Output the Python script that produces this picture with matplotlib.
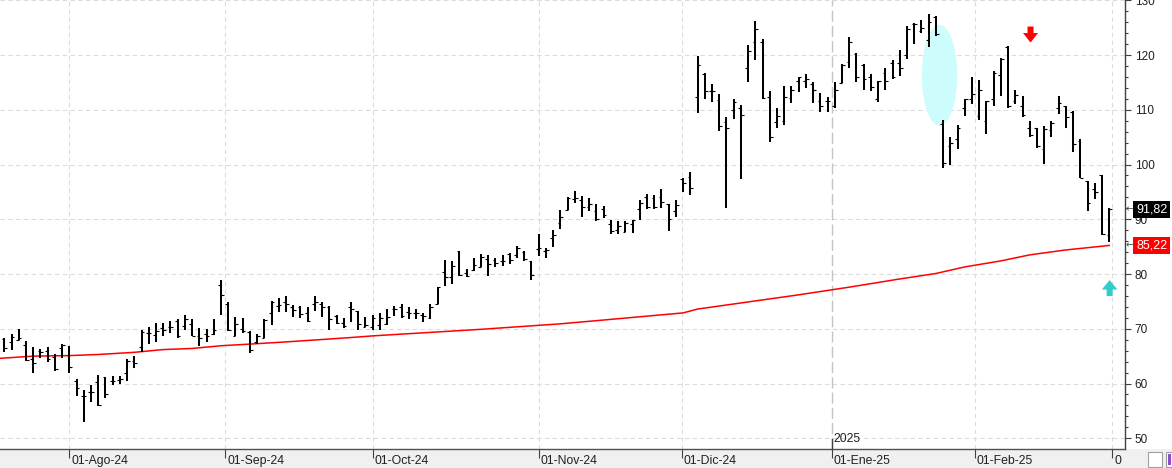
import matplotlib
matplotlib.use("Agg")
import matplotlib.pyplot as plt
import matplotlib.transforms as mtransforms
from matplotlib.patches import Ellipse, Polygon, Rectangle
import numpy as np

# ---------------- data ----------------
opens = [68.1, 67.6, 68.0, 67.0, 64.5, 66.0, 66.0, 64.9, 66.4, 65.3,
         60.5, 57.7, 58.5, 60.2, 61.1, 60.5, 60.6, 61.9, 64.2, 66.6,
         69.2, 68.9, 70.1, 70.3, 71.4, 70.5, 70.9, 68.6, 69.0, 69.0,
         78.0, 74.6, 68.7, 69.9, 69.5, 67.6, 68.4, 72.8, 74.2, 74.8,
         73.9, 73.9, 72.8, 74.6, 74.5, 73.9, 72.3, 71.1, 73.9, 73.2,
         70.4, 70.4, 70.6, 70.9, 73.6, 74.0, 73.0, 72.8, 72.5, 71.9,
         74.6, 80.3, 79.5, 84.2, 80.1, 80.7, 81.2, 82.7, 82.6, 82.4,
         83.6, 83.4, 84.1, 82.4, 84.6, 84.2, 86.5, 89.4, 91.7, 93.7,
         93.5, 92.2, 91.5, 91.8, 89.1, 88.0, 87.7, 89.1, 91.9, 94.0,
         93.9, 94.0, 92.8, 91.5, 97.3, 97.7, 112.3, 116.5, 113.5, 111.8,
         107.8, 110.0, 110.3, 117.6, 122.4, 122.3, 112.4, 107.7, 107.9, 112.1,
         115.2, 115.2, 114.7, 111.6, 111.6, 110.7, 114.9, 118.8, 120.2, 118.2,
         116.0, 111.9, 116.8, 118.6, 118.5, 120.0, 125.6, 124.4, 122.7, 126.9,
         107.4, 103.4, 104.6, 110.3, 111.9, 108.8, 107.9, 112.0, 116.3, 121.5,
         111.6, 110.7, 106.7, 106.6, 102.8, 106.3, 110.4, 110.6, 109.6, 104.3,
         96.9, 95.6, 98.0, 87.1]
highs = [68.4, 69.0, 69.9, 67.8, 66.6, 66.3, 66.6, 65.4, 67.3, 66.8,
         60.8, 58.8, 59.8, 61.5, 61.2, 61.4, 61.4, 64.5, 65.0, 69.8,
         70.3, 71.1, 71.1, 71.4, 71.8, 72.5, 71.8, 70.1, 69.9, 71.7,
         78.9, 74.8, 72.2, 72.0, 69.6, 69.0, 71.7, 75.1, 75.7, 75.9,
         74.3, 74.2, 73.9, 76.0, 74.8, 74.2, 72.6, 71.9, 74.8, 73.2,
         72.2, 72.6, 72.8, 73.7, 74.2, 74.5, 73.9, 73.6, 72.9, 74.5,
         77.7, 82.6, 82.4, 84.2, 81.0, 82.9, 83.6, 83.4, 82.9, 83.5,
         83.8, 85.2, 84.2, 82.4, 87.3, 84.7, 88.0, 91.7, 94.0, 95.2,
         94.2, 93.8, 92.8, 92.4, 89.9, 89.7, 89.7, 89.9, 93.5, 94.7,
         94.4, 95.5, 92.8, 93.6, 97.6, 98.6, 119.8, 116.8, 114.7, 112.8,
         108.6, 111.9, 110.9, 121.8, 126.2, 122.9, 113.5, 110.3, 114.3, 114.3,
         115.9, 116.5, 115.1, 113.0, 112.4, 115.1, 118.3, 123.3, 120.4, 118.4,
         116.5, 115.3, 117.7, 119.1, 120.9, 125.3, 125.9, 126.4, 127.5, 127.1,
         108.1, 105.1, 107.2, 112.0, 115.9, 115.4, 111.6, 117.0, 119.5, 121.7,
         113.6, 112.5, 107.9, 106.7, 107.0, 108.0, 112.5, 110.7, 109.8, 104.6,
         97.0, 96.7, 98.1, 92.0]
lows = [65.8, 66.2, 67.9, 64.2, 62.0, 64.6, 64.0, 62.2, 64.7, 62.0,
        57.8, 53.0, 56.7, 55.9, 57.3, 59.8, 59.9, 60.5, 62.8, 65.8,
        67.2, 67.5, 68.7, 69.3, 68.3, 69.8, 68.6, 66.9, 67.5, 68.9,
        72.5, 69.6, 68.6, 69.3, 65.5, 67.2, 68.4, 70.7, 73.1, 73.1,
        72.2, 71.9, 71.3, 73.3, 72.2, 69.8, 70.8, 70.2, 71.3, 69.8,
        70.3, 69.8, 69.8, 70.7, 72.4, 71.9, 71.7, 71.8, 71.3, 71.8,
        74.6, 77.9, 78.1, 79.7, 79.4, 80.6, 81.2, 79.7, 81.2, 81.5,
        81.8, 83.0, 82.4, 78.9, 83.3, 83.0, 85.0, 88.3, 91.7, 92.9,
        90.4, 91.5, 89.7, 90.2, 87.4, 87.3, 87.6, 87.5, 89.9, 91.9,
        91.8, 92.0, 87.9, 90.4, 94.9, 94.4, 109.5, 112.0, 111.5, 106.2,
        92.1, 108.4, 97.3, 115.1, 119.0, 111.9, 104.2, 106.6, 107.2, 111.2,
        113.3, 114.0, 111.3, 109.6, 109.6, 110.3, 114.8, 117.7, 115.0, 113.6,
        113.5, 111.5, 113.6, 115.6, 116.2, 119.3, 122.1, 124.1, 121.5, 123.5,
        99.4, 99.9, 102.8, 108.9, 111.0, 108.1, 105.6, 110.6, 112.5, 110.4,
        111.0, 108.7, 105.0, 103.1, 100.1, 105.0, 109.2, 106.7, 102.2, 97.5,
        91.6, 93.7, 87.1, 85.9]
closes = [66.4, 68.5, 68.3, 64.3, 63.8, 65.8, 64.4, 62.6, 67.0, 63.1,
          59.2, 57.8, 58.4, 56.0, 58.0, 60.5, 60.8, 64.1, 63.7, 69.5,
          69.3, 69.6, 69.8, 70.3, 68.7, 71.7, 68.7, 68.4, 68.6, 69.8,
          76.1, 69.7, 70.8, 69.6, 66.1, 68.7, 71.6, 74.8, 74.3, 74.5,
          73.4, 72.7, 71.5, 74.8, 73.9, 71.7, 71.1, 70.5, 73.6, 70.9,
          70.6, 71.9, 72.0, 72.2, 73.6, 72.4, 72.8, 72.8, 72.4, 74.0,
          77.7, 79.4, 81.5, 79.8, 79.6, 81.6, 83.2, 81.8, 82.0, 82.4,
          82.6, 84.8, 82.7, 79.9, 84.8, 84.3, 87.1, 90.5, 93.8, 93.8,
          92.2, 92.7, 90.0, 90.8, 87.9, 88.8, 89.4, 89.9, 93.0, 92.3,
          92.2, 93.2, 90.0, 92.6, 96.7, 95.8, 118.1, 113.4, 113.4, 107.0,
          106.6, 111.4, 109.0, 120.8, 124.7, 112.1, 105.1, 108.9, 112.3, 113.7,
          115.9, 115.6, 113.6, 110.7, 111.6, 113.6, 118.2, 122.3, 116.0, 115.6,
          114.2, 115.3, 115.3, 115.9, 117.7, 124.7, 125.6, 125.0, 126.0, 123.8,
          100.2, 103.9, 106.7, 111.9, 112.8, 113.6, 111.6, 116.8, 119.3, 110.6,
          112.7, 109.0, 105.4, 103.4, 106.4, 107.6, 111.3, 108.6, 103.7, 97.6,
          92.9, 94.9, 87.4, 91.82]

# moving average (red line), read at selected bar positions
ma_pos = [-0.6, 4, 9, 13, 18, 22, 26, 30, 34, 39, 43, 48, 51, 66, 77, 83,
          94, 96, 103, 110, 117, 124, 129, 133, 138, 142, 147, 153]
ma_val = [64.6, 65.0, 65.1, 65.3, 65.7, 66.2, 66.4, 66.9, 67.2, 67.6, 67.95,
          68.4, 68.7, 69.9, 70.9, 71.6, 72.9, 73.6, 74.9, 76.2, 77.6, 79.1,
          80.1, 81.3, 82.4, 83.5, 84.4, 85.22]

last_close = 91.82
last_ma = 85.22

month_pos = [9, 30.6, 51, 74, 93.8, 114.6, 134.4, 153.4]
month_labels = ["01-Ago-24", "01-Sep-24", "01-Oct-24", "01-Nov-24",
                "01-Dic-24", "01-Ene-25", "01-Feb-25", "0"]
year_pos = 114.6
year_label = "2025"

# annotations: signals and highlighted zone
sell_signal = (142.1, 125.2)   # top of red down arrow
buy_signal = (153.05, 78.9)    # tip of teal up arrow
zone_center = (129.5, 116.3)
zone_size = (4.9, 18.4)

# ---------------- figure ----------------
W, H = 1172, 468
fig = plt.figure(figsize=(W / 100, H / 100), dpi=100)
fig.patch.set_facecolor("white")
fig.patches.append(Rectangle((0, 0), 1, 19 / H, transform=fig.transFigure,
                             facecolor="#f0f0f0", edgecolor="none", zorder=-5))

ax = fig.add_axes([0, 19 / H, 1125 / W, 449 / H])
ax.set_facecolor("white")
ax.set_xlim(-0.595, 155.18)
ax.set_ylim(48.04, 130.05)

FONT = "Liberation Sans"
TXT = "#202020"

# grid
for v in range(50, 131, 10):
    ax.axhline(v, color="#dcdcdc", lw=0.8, ls=(0, (4, 3)), zorder=1)
for p in month_pos:
    if p == year_pos:
        ax.axvline(p, color="#c4c4c4", lw=1.0, ls=(0, (8, 3)), zorder=1)
    else:
        ax.axvline(p, color="#dcdcdc", lw=0.8, ls=(0, (4, 3)), zorder=1)

# highlighted zone
ax.add_patch(Ellipse(zone_center, zone_size[0], zone_size[1],
                     facecolor="#ccfcfc", edgecolor="none", zorder=2))

# moving average
ax.plot(ma_pos, ma_val, color="#ff0000", lw=1.1, zorder=3)

# OHLC bars
x = np.arange(len(closes))
ax.vlines(x, lows, highs, color="black", lw=1.45, zorder=4)
ax.hlines(opens, x - 0.38, x, color="black", lw=0.8, zorder=4)
ax.hlines(closes, x, x + 0.38, color="black", lw=0.8, zorder=4)

# signal arrows (shape sizes in px converted to data units)
px_x = (155.18 + 0.595) / 1125.0
px_y = (130.05 - 48.04) / 449.0
sx, sy = sell_signal
sell = [(sx - 3 * px_x, sy), (sx + 3 * px_x, sy), (sx + 3 * px_x, sy - 6.5 * px_y),
        (sx + 7.5 * px_x, sy - 6.5 * px_y), (sx, sy - 16 * px_y),
        (sx - 7.5 * px_x, sy - 6.5 * px_y), (sx - 3 * px_x, sy - 6.5 * px_y)]
ax.add_patch(Polygon(sell, closed=True, facecolor="#ff0000", edgecolor="none", zorder=5))
bx, by = buy_signal
buy = [(bx, by), (bx + 7.8 * px_x, by - 9.5 * px_y), (bx + 3 * px_x, by - 9.5 * px_y),
       (bx + 3 * px_x, by - 16 * px_y), (bx - 3 * px_x, by - 16 * px_y),
       (bx - 3 * px_x, by - 9.5 * px_y), (bx - 7.8 * px_x, by - 9.5 * px_y)]
ax.add_patch(Polygon(buy, closed=True, facecolor="#33cccc", edgecolor="none", zorder=5))

# spines
for s in ["top", "left"]:
    ax.spines[s].set_visible(False)
ax.spines["right"].set_color("#404040")
ax.spines["right"].set_linewidth(1.0)
ax.spines["bottom"].set_color("#505050")
ax.spines["bottom"].set_linewidth(1.0)

# y axis on right
ax.yaxis.tick_right()
ax.set_yticks(range(50, 131, 10))
ax.set_yticks(range(50, 131, 2), minor=True)
ax.tick_params(axis="y", which="major", length=4.5, width=0.8, color="#404040",
               pad=2.5, labelsize=8.5, labelcolor=TXT, direction="out")
ax.tick_params(axis="y", which="minor", length=2.5, width=0.8, color="#404040",
               direction="out")
for lbl in ax.get_yticklabels():
    lbl.set_fontfamily(FONT)

# x axis
ax.set_xticks(month_pos)
ax.set_xticklabels([])
ax.tick_params(axis="x", which="major", length=6.5, width=0.8, color="#404040",
               direction="out")
trans = mtransforms.blended_transform_factory(ax.transData, ax.transAxes)
for p, lab in zip(month_pos, month_labels):
    ax.text(p, 0, lab, transform=mtransforms.offset_copy(trans, fig=fig, x=2, y=-12, units="dots"),
            ha="left", va="center", fontsize=8.8, color=TXT, fontfamily=FONT, clip_on=False,
            zorder=8)

# year marker
ax.plot([year_pos, year_pos], [0, 10 / 449], transform=trans, color="#404040", lw=1.0,
        clip_on=False, zorder=6)
ax.text(year_pos, 0, year_label,
        transform=mtransforms.offset_copy(trans, fig=fig, x=2, y=10, units="dots"),
        ha="left", va="center", fontsize=8.8, color=TXT, fontfamily=FONT)

# value labels on the right axis
ytrans = mtransforms.blended_transform_factory(ax.transAxes, ax.transData)
for val, fc in [(last_close, "black"), (last_ma, "#ff0000")]:
    ax.text(1136 / 1125, val, f"{val:.2f}".replace(".", ","), transform=ytrans,
            ha="left", va="center", fontsize=9, color="white", fontfamily=FONT,
            bbox=dict(boxstyle="square,pad=0.22", fc=fc, ec="none"), clip_on=False, zorder=7)
    ax.text(1126 / 1125, val, "\u2190", transform=ytrans, ha="left", va="center",
            fontsize=7, color="#505050", fontfamily="DejaVu Sans", clip_on=False)

# small UI boxes bottom right
fig.patches.append(Rectangle((1148 / W, 1 / H), 14 / W, 15 / H, transform=fig.transFigure,
                             facecolor="white", edgecolor="#a0a0a0", lw=0.8))
fig.patches.append(Rectangle((1166 / W, 1 / H), 6 / W, 15 / H, transform=fig.transFigure,
                             facecolor="white", edgecolor="#a0a0a0", lw=0.8))
fig.patches.append(Rectangle((1167.5 / W, 3 / H), 3 / W, 11 / H, transform=fig.transFigure,
                             facecolor="#8a4fc8", edgecolor="none"))

fig.savefig("out.png", dpi=100)
